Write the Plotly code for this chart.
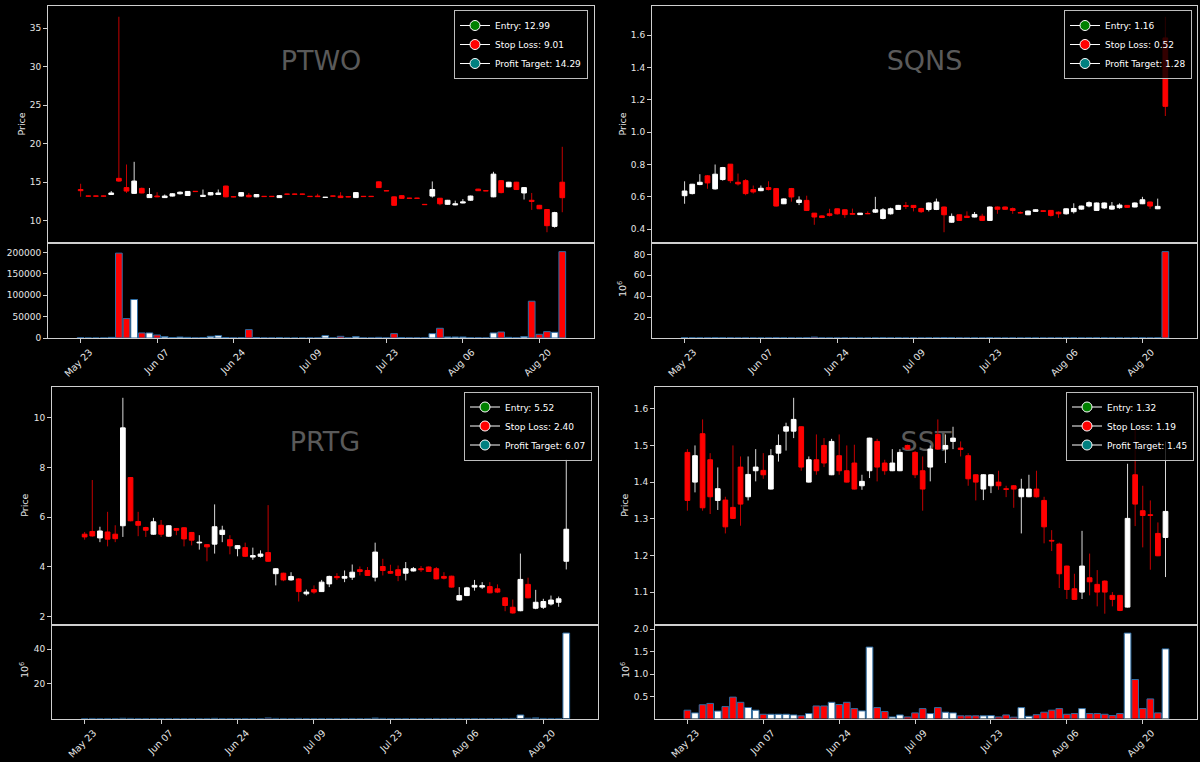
import plotly.graph_objects as go
import pandas as pd

# ---------------- data ----------------
TRADING_DAYS = pd.bdate_range("2024-05-23", "2024-08-23", freq="C",
                              holidays=["2024-05-27", "2024-06-19", "2024-07-04"])
TICKERS = ["PTWO", "SQNS", "PRTG", "SST"]
ENTRY = [12.99, 1.16, 5.52, 1.32]
STOP = [9.01, 0.52, 2.40, 1.19]
TARGET = [14.29, 1.28, 6.07, 1.45]

PTWO_OPEN = [14.05, 13.22, 13.22, 13.22, 13.4, 15.5, 14.3, 13.55, 14.2, 13.0,
             13.2, 13.0, 13.2, 13.5, 13.27, 13.82, 13.15, 13.35, 13.4, 14.5,
             13.12, 13.2, 13.3, 13.1, 13.17, 13.17, 13.0, 13.47, 13.47, 13.47,
             13.17, 13.2, 13.02, 13.22, 13.2, 13.12, 13.0, 13.17, 13.17, 15.05,
             13.9, 13.1, 13.25, 12.94, 12.94, 12.12, 13.2, 12.92, 12.13, 12.05,
             12.3, 12.66, 14.1, 13.9, 13.1, 15.2, 14.4, 15.0, 13.6, 12.65,
             12.0, 11.45, 9.26, 15.0]
PTWO_HIGH = [14.8, 13.25, 13.25, 13.25, 13.85, 36.5, 17.3, 17.65, 14.3, 14.25,
             13.7, 13.4, 13.55, 13.8, 13.85, 13.85, 14.05, 13.7, 14.05, 14.55,
             13.15, 13.7, 13.6, 13.45, 13.2, 13.2, 13.3, 13.5, 13.5, 13.5,
             13.2, 13.5, 13.08, 13.25, 13.7, 13.15, 13.7, 13.2, 13.2, 15.1,
             13.92, 13.15, 13.3, 12.97, 12.97, 12.15, 15.1, 12.95, 12.7, 12.6,
             12.8, 13.25, 14.15, 13.92, 16.35, 15.25, 15.05, 15.05, 14.35, 13.6,
             12.05, 11.5, 11.15, 19.6]
PTWO_LOW = [13.1, 13.15, 13.15, 13.15, 13.4, 15.05, 13.6, 13.5, 13.55, 13.0,
            13.05, 12.95, 13.15, 13.4, 13.25, 13.75, 13.1, 13.3, 13.35, 13.05,
            13.05, 13.15, 13.05, 13.05, 13.1, 13.1, 12.98, 13.4, 13.4, 13.4,
            13.1, 13.1, 13.0, 13.15, 12.95, 13.05, 12.95, 13.1, 13.1, 14.25,
            13.85, 11.95, 12.85, 12.88, 12.88, 12.05, 13.0, 12.0, 12.1, 12.0,
            12.25, 12.6, 13.85, 13.85, 13.05, 13.55, 14.35, 14.0, 12.75, 11.4,
            11.5, 8.5, 9.1, 11.1]
PTWO_CLOSE = [13.9, 13.18, 13.18, 13.18, 13.6, 15.15, 13.85, 15.15, 13.6, 13.4,
              13.1, 13.2, 13.5, 13.7, 13.8, 13.78, 13.3, 13.65, 13.6, 13.1,
              13.08, 13.65, 13.1, 13.4, 13.13, 13.13, 13.25, 13.43, 13.43, 13.43,
              13.13, 13.12, 13.06, 13.18, 13.0, 13.08, 13.65, 13.13, 13.13, 14.3,
              13.86, 12.0, 12.9, 12.9, 12.9, 12.08, 14.05, 12.2, 12.65, 12.2,
              12.45, 13.2, 13.9, 13.86, 16.05, 13.65, 15.0, 14.05, 14.3, 12.5,
              11.55, 9.35, 11.05, 12.99]
PTWO_VOLUME = [800, 0, 0, 0, 1500, 198500, 45500, 90000, 11800, 11800,
               7000, 3100, 1000, 2300, 1500, 500, 1000, 3900, 5500, 1200,
               300, 500, 19600, 1000, 300, 300, 600, 0, 0, 0,
               300, 300, 5500, 300, 3900, 300, 3100, 300, 300, 1500,
               400, 10200, 1200, 500, 500, 400, 10200, 22700, 2400, 2400,
               2400, 400, 600, 300, 11800, 14000, 1500, 600, 3100, 86000,
               8600, 14900, 13300, 202000]

SQNS_OPEN = [0.607, 0.62, 0.676, 0.73, 0.649, 0.707, 0.802, 0.69, 0.70, 0.645,
             0.638, 0.657, 0.651, 0.557, 0.651, 0.565, 0.578, 0.499, 0.482, 0.495,
             0.526, 0.52, 0.497, 0.49, 0.497, 0.505, 0.466, 0.495, 0.522, 0.546,
             0.547, 0.528, 0.522, 0.522, 0.537, 0.443, 0.489, 0.48, 0.475, 0.48,
             0.454, 0.537, 0.537, 0.527, 0.502, 0.489, 0.51, 0.514, 0.516, 0.505,
             0.495, 0.508, 0.524, 0.543, 0.516, 0.531, 0.524, 0.533, 0.547, 0.537,
             0.557, 0.568, 0.526, 1.583]
SQNS_HIGH = [0.696, 0.68, 0.74, 0.735, 0.80, 0.785, 0.802, 0.744, 0.71, 0.67,
             0.67, 0.696, 0.655, 0.59, 0.655, 0.603, 0.607, 0.50, 0.485, 0.526,
             0.528, 0.522, 0.527, 0.50, 0.51, 0.60, 0.53, 0.533, 0.55, 0.568,
             0.549, 0.532, 0.565, 0.589, 0.54, 0.497, 0.49, 0.51, 0.506, 0.495,
             0.54, 0.54, 0.54, 0.534, 0.51, 0.515, 0.522, 0.515, 0.518, 0.51,
             0.528, 0.56, 0.545, 0.572, 0.565, 0.565, 0.568, 0.56, 0.549, 0.565,
             0.60, 0.57, 0.589, 1.714]
SQNS_LOW = [0.557, 0.615, 0.672, 0.65, 0.645, 0.70, 0.685, 0.67, 0.61, 0.62,
            0.635, 0.64, 0.54, 0.555, 0.57, 0.549, 0.512, 0.427, 0.47, 0.478,
            0.49, 0.47, 0.49, 0.488, 0.493, 0.50, 0.46, 0.49, 0.52, 0.525,
            0.51, 0.50, 0.51, 0.518, 0.381, 0.44, 0.452, 0.47, 0.473, 0.452,
            0.452, 0.495, 0.52, 0.495, 0.496, 0.487, 0.508, 0.507, 0.478, 0.47,
            0.49, 0.497, 0.52, 0.535, 0.514, 0.525, 0.52, 0.526, 0.533, 0.535,
            0.555, 0.526, 0.524, 1.10]
SQNS_CLOSE = [0.636, 0.678, 0.69, 0.686, 0.74, 0.781, 0.70, 0.68, 0.62, 0.63,
              0.653, 0.645, 0.543, 0.587, 0.599, 0.58, 0.516, 0.475, 0.472, 0.485,
              0.495, 0.49, 0.492, 0.499, 0.495, 0.52, 0.52, 0.526, 0.547, 0.54,
              0.534, 0.508, 0.562, 0.568, 0.489, 0.479, 0.454, 0.472, 0.491, 0.454,
              0.537, 0.523, 0.523, 0.516, 0.50, 0.512, 0.52, 0.51, 0.485, 0.495,
              0.526, 0.528, 0.543, 0.564, 0.562, 0.562, 0.543, 0.549, 0.535, 0.562,
              0.582, 0.543, 0.541, 1.16]
SQNS_VOLUME = [210000, 150000, 120000, 180000, 260000, 190000, 240000, 130000, 220000, 110000,
               90000, 140000, 310000, 120000, 170000, 100000, 280000, 900000, 160000, 120000,
               140000, 180000, 90000, 70000, 80000, 150000, 210000, 110000, 130000, 90000,
               100000, 120000, 140000, 160000, 420000, 230000, 170000, 110000, 90000, 120000,
               250000, 110000, 80000, 90000, 60000, 100000, 70000, 60000, 140000, 110000,
               120000, 150000, 100000, 130000, 160000, 120000, 110000, 90000, 80000, 100000,
               140000, 120000, 150000, 82600000]

PRTG_OPEN = [5.32, 5.43, 5.17, 5.41, 5.32, 5.66, 7.6, 5.83, 5.59, 5.32,
             5.68, 5.24, 5.55, 5.58, 5.39, 4.97, 4.9, 4.92, 5.31, 5.1,
             4.74, 4.78, 4.4, 4.43, 4.58, 3.73, 3.75, 3.48, 3.52, 2.92,
             3.09, 3.01, 3.32, 3.62, 3.55, 3.59, 3.89, 3.86, 3.59, 4.02,
             3.82, 3.89, 3.75, 3.84, 3.93, 4.0, 3.93, 3.62, 3.63, 2.67,
             2.85, 3.19, 3.19, 3.21, 3.12, 2.76, 2.38, 2.24, 3.3, 2.34,
             2.38, 2.51, 2.58, 4.23]
PRTG_HIGH = [5.41, 7.5, 5.62, 6.22, 5.68, 10.81, 7.62, 6.22, 5.62, 5.98,
             5.89, 5.68, 5.57, 5.6, 5.41, 5.28, 4.92, 6.52, 5.66, 5.28,
             4.88, 4.98, 4.78, 4.67, 6.49, 3.95, 3.77, 3.79, 3.55, 3.09,
             3.26, 3.48, 3.65, 3.75, 3.86, 4.1, 4.02, 4.0, 4.98, 4.33,
             4.09, 4.06, 4.2, 4.0, 4.04, 4.02, 4.0, 3.79, 3.65, 3.19,
             3.2, 3.48, 3.39, 3.39, 3.3, 2.78, 2.69, 4.54, 3.57, 3.08,
             2.72, 2.85, 2.81, 8.32]
PRTG_LOW = [5.1, 5.22, 5.0, 4.83, 5.0, 5.21, 5.84, 5.24, 5.21, 5.3,
            5.21, 5.22, 5.28, 4.83, 4.87, 4.7, 4.23, 4.54, 5.0, 4.51,
            4.43, 4.4, 4.29, 4.38, 4.21, 3.26, 3.43, 3.45, 2.61, 2.85,
            2.92, 3.0, 3.19, 3.48, 3.39, 3.48, 3.66, 3.64, 3.42, 3.66,
            3.73, 3.43, 3.46, 3.82, 3.8, 3.8, 3.5, 3.5, 3.17, 2.65,
            2.83, 3.05, 3.12, 2.94, 2.95, 2.22, 2.12, 2.22, 2.74, 2.3,
            2.31, 2.45, 2.4, 3.9]
PRTG_CLOSE = [5.21, 5.25, 5.45, 5.12, 5.14, 9.6, 5.86, 5.68, 5.48, 5.82,
              5.32, 5.66, 5.48, 5.13, 5.08, 5.0, 4.81, 5.62, 5.48, 4.85,
              4.86, 4.43, 4.46, 4.52, 4.23, 3.93, 3.48, 3.62, 3.01, 2.99,
              2.99, 3.39, 3.62, 3.57, 3.62, 3.79, 3.82, 3.66, 4.6, 3.86,
              3.75, 3.66, 3.93, 3.93, 3.89, 3.82, 3.52, 3.55, 3.19, 2.85,
              3.16, 3.26, 3.25, 2.96, 2.99, 2.45, 2.15, 3.5, 2.76, 2.58,
              2.61, 2.67, 2.72, 5.52]
PRTG_VOLUME = [40000, 90000, 60000, 70000, 50000, 180000, 120000, 60000, 40000, 50000,
               60000, 40000, 30000, 50000, 60000, 40000, 70000, 150000, 60000, 50000,
               40000, 60000, 50000, 30000, 350000, 120000, 80000, 50000, 110000, 60000,
               50000, 70000, 60000, 40000, 50000, 80000, 60000, 50000, 300000, 120000,
               60000, 70000, 60000, 40000, 30000, 50000, 80000, 60000, 90000, 70000,
               60000, 50000, 40000, 60000, 50000, 90000, 120000, 2100000, 200000, 400000,
               100000, 80000, 70000, 49300000]

SST_OPEN = [1.481, 1.4, 1.532, 1.461, 1.35, 1.351, 1.331, 1.441, 1.36, 1.431,
            1.432, 1.381, 1.479, 1.539, 1.539, 1.551, 1.4, 1.461, 1.5, 1.42,
            1.472, 1.431, 1.452, 1.39, 1.431, 1.511, 1.452, 1.431, 1.431, 1.5,
            1.481, 1.431, 1.441, 1.53, 1.49, 1.511, 1.493, 1.472, 1.42, 1.381,
            1.39, 1.4, 1.382, 1.39, 1.36, 1.36, 1.381, 1.35, 1.241, 1.231,
            1.171, 1.109, 1.1, 1.139, 1.121, 1.13, 1.091, 1.091, 1.059, 1.42,
            1.322, 1.311, 1.26, 1.249]
SST_HIGH = [1.49, 1.5, 1.571, 1.479, 1.44, 1.36, 1.5, 1.47, 1.47, 1.49,
            1.479, 1.49, 1.53, 1.562, 1.63, 1.552, 1.47, 1.53, 1.52, 1.518,
            1.53, 1.5, 1.502, 1.42, 1.521, 1.518, 1.461, 1.49, 1.49, 1.502,
            1.485, 1.47, 1.5, 1.571, 1.53, 1.551, 1.511, 1.479, 1.421, 1.421,
            1.421, 1.431, 1.39, 1.392, 1.409, 1.42, 1.431, 1.36, 1.269, 1.235,
            1.172, 1.15, 1.267, 1.205, 1.16, 1.132, 1.1, 1.092, 1.45, 1.55,
            1.39, 1.35, 1.29, 1.511]
SST_LOW = [1.322, 1.372, 1.322, 1.313, 1.324, 1.26, 1.3, 1.281, 1.35, 1.402,
           1.409, 1.38, 1.456, 1.486, 1.52, 1.431, 1.399, 1.42, 1.441, 1.419,
           1.42, 1.399, 1.38, 1.379, 1.411, 1.402, 1.42, 1.43, 1.43, 1.488,
           1.411, 1.322, 1.402, 1.488, 1.452, 1.49, 1.47, 1.39, 1.35, 1.351,
           1.37, 1.379, 1.359, 1.33, 1.26, 1.359, 1.358, 1.233, 1.212, 1.111,
           1.081, 1.079, 1.081, 1.091, 1.061, 1.041, 1.061, 1.048, 1.058, 1.28,
           1.222, 1.161, 1.198, 1.141]
SST_CLOSE = [1.35, 1.472, 1.33, 1.36, 1.382, 1.278, 1.301, 1.34, 1.421, 1.441,
             1.42, 1.472, 1.5, 1.551, 1.571, 1.441, 1.461, 1.431, 1.452, 1.511,
             1.431, 1.4, 1.381, 1.402, 1.52, 1.441, 1.431, 1.452, 1.481, 1.49,
             1.42, 1.381, 1.49, 1.49, 1.5, 1.52, 1.489, 1.409, 1.4, 1.42,
             1.42, 1.39, 1.38, 1.381, 1.381, 1.381, 1.36, 1.278, 1.239, 1.15,
             1.107, 1.08, 1.171, 1.128, 1.1, 1.1, 1.08, 1.05, 1.301, 1.34,
             1.309, 1.309, 1.199, 1.32]
SST_VOLUME = [200000, 140000, 320000, 350000, 180000, 280000, 490000, 375000, 260000, 200000,
              110000, 110000, 110000, 110000, 95000, 75000, 125000, 294000, 294000, 375000,
              325000, 375000, 235000, 184000, 1600000, 257000, 170000, 50000, 95000, 50000,
              140000, 235000, 125000, 257000, 155000, 140000, 75000, 75000, 75000, 75000,
              80000, 50000, 95000, 45000, 257000, 65000, 100000, 155000, 200000, 235000,
              110000, 125000, 235000, 125000, 125000, 110000, 80000, 125000, 1910000, 880000,
              235000, 450000, 140000, 1560000]

SERIES = {
    "PTWO": (PTWO_OPEN, PTWO_HIGH, PTWO_LOW, PTWO_CLOSE, PTWO_VOLUME),
    "SQNS": (SQNS_OPEN, SQNS_HIGH, SQNS_LOW, SQNS_CLOSE, SQNS_VOLUME),
    "PRTG": (PRTG_OPEN, PRTG_HIGH, PRTG_LOW, PRTG_CLOSE, PRTG_VOLUME),
    "SST": (SST_OPEN, SST_HIGH, SST_LOW, SST_CLOSE, SST_VOLUME),
}

# ---------------- layout / styles ----------------
W, H = 1200, 762
FONT = "DejaVu Sans"
LINE = "#cfcfcf"
TXT = "#e6e6e6"
UP, DOWN = "#ffffff", "#ff0000"
WICK_UP, WICK_DOWN = "#d9d9d9", "#c40000"
VOL_EDGE = "#2e6da4"
XR = [-4.27, 67.15]

# panel geometry in pixels: (left, right, top, separator, bottom)
GEOM = [(48, 594, 6, 243, 338), (652, 1197, 6, 243, 338),
        (52, 598, 387, 624.5, 718.6), (655, 1197, 387, 624.5, 718.6)]
LEGEND_POS = [(588, 10), (1192, 10), (592, 391.5), (1194, 391.5)]
VOL_SCALE = [1, 1e6, 1e6, 1e6]
PRICE_DTICK = [5, 0.2, 2, 0.1]
PRICE_FMT = ["d", ".1f", "d", ".1f"]
VOL_DTICK = [50000, 20, 20, 0.5]
VOL_FMT = ["d", "d", "d", ".1f"]
PRICE_LABEL_X = [21, 622, 25, 625]
VOL_LABEL_X = [None, 621.5, 23.5, 624.5]


def px(x):
    return x / W


def py(y):
    return 1 - y / H


def aid(n):
    return "" if n == 1 else str(n)


idx = list(range(len(TRADING_DAYS)))
tickvals = idx[::10]
ticktext = [d.strftime("%b %d") for d in TRADING_DAYS[::10]]

fig = go.Figure()
layout = dict(
    width=W, height=H, margin=dict(l=0, r=0, t=0, b=0, autoexpand=False),
    paper_bgcolor="black", plot_bgcolor="black",
    barmode="overlay", showlegend=True,
    font=dict(family=FONT, color=TXT, size=9),
    annotations=[],
)

axis_common = dict(showline=True, linecolor=LINE, linewidth=1, mirror=True,
                   showgrid=False, zeroline=False, ticks="outside", ticklen=4,
                   tickwidth=1, tickcolor=LINE, automargin=False,
                   tickfont=dict(family=FONT, size=9, color=TXT))

for p, tk in enumerate(TICKERS):
    O, Hh, L, C, V = SERIES[tk]
    a, b, c = 3 * p + 1, 3 * p + 2, 3 * p + 3
    left, right, top, sep, bot = GEOM[p]
    lo_d, hi_d = min(L), max(Hh)
    pad = 0.05 * (hi_d - lo_d)
    yr = [lo_d - pad, hi_d + pad]
    vs = VOL_SCALE[p]
    vol = [v / vs for v in V]
    vr = [0.3 * min(vol), 1.1 * max(vol)]
    xd = [px(left), px(right)]

    layout["xaxis" + aid(a)] = dict(axis_common, domain=xd, range=XR, anchor="y" + aid(a),
                                    showticklabels=False, ticks="")
    layout["yaxis" + aid(a)] = dict(axis_common, domain=[py(sep), py(top)], range=yr,
                                    anchor="x" + aid(a), dtick=PRICE_DTICK[p], tick0=0,
                                    tickformat=PRICE_FMT[p])
    layout["yaxis" + aid(c)] = dict(range=yr, overlaying="y" + aid(a), anchor="x" + aid(a),
                                    visible=False, showgrid=False, zeroline=False,
                                    automargin=False)
    layout["xaxis" + aid(b)] = dict(axis_common, domain=xd, range=XR, anchor="y" + aid(b),
                                    tickmode="array", tickvals=tickvals, ticktext=ticktext,
                                    tickangle=-45, ticklabelshift=9,
                                    tickfont=dict(family=FONT, size=9.5, color=TXT))
    layout["yaxis" + aid(b)] = dict(axis_common, domain=[py(bot), py(sep)], range=vr,
                                    anchor="x" + aid(b), dtick=VOL_DTICK[p], tick0=0,
                                    tickformat=VOL_FMT[p])

    xa, ya, yc = "x" + aid(a), "y" + aid(a), "y" + aid(c)
    xb, yb = "x" + aid(b), "y" + aid(b)

    # ticker watermark (drawn first: sits behind candles)
    fig.add_trace(go.Scatter(x=[(XR[0] + XR[1]) / 2], y=[yr[0] + 0.76 * (yr[1] - yr[0])],
                             mode="text", text=[tk],
                             textfont=dict(family=FONT, size=27, color="#5a5a5a"),
                             xaxis=xa, yaxis=ya, showlegend=False, hoverinfo="skip"))

    up = [i for i in idx if C[i] >= O[i]]
    dn = [i for i in idx if C[i] < O[i]]

    # wicks
    for sel, col in ((up, WICK_UP), (dn, WICK_DOWN)):
        wx, wy = [], []
        for i in sel:
            wx += [i, i, None]
            wy += [L[i], Hh[i], None]
        fig.add_trace(go.Scatter(x=wx, y=wy, mode="lines", line=dict(color=col, width=1),
                                 xaxis=xa, yaxis=ya, showlegend=False, hoverinfo="skip"))

    # bodies (on overlay axis, drawn above wicks)
    for sel, col in ((up, UP), (dn, DOWN)):
        fig.add_trace(go.Bar(x=sel, y=[abs(C[i] - O[i]) for i in sel],
                             base=[min(C[i], O[i]) for i in sel], width=0.62,
                             marker=dict(color=col, line=dict(color=col, width=1)),
                             xaxis=xa, yaxis=yc, showlegend=False, hoverinfo="skip"))

    # volume
    for sel, col in ((up, UP), (dn, DOWN)):
        fig.add_trace(go.Bar(x=sel, y=[vol[i] for i in sel], width=0.88,
                             marker=dict(color=col, line=dict(color=VOL_EDGE, width=1)),
                             xaxis=xb, yaxis=yb, showlegend=False, hoverinfo="skip"))

    # legend proxies
    lg = "legend" + aid(p + 1)
    for name, val, col in (("Entry", ENTRY[p], "#008000"),
                           ("Stop Loss", STOP[p], "#ff0000"),
                           ("Profit Target", TARGET[p], "#008080")):
        fig.add_trace(go.Scatter(x=[None], y=[None], mode="lines+markers",
                                 name=f"{name}: {val:.2f}",
                                 line=dict(color="white", width=1),
                                 marker=dict(size=10, color=col, line=dict(color="white", width=1)),
                                 xaxis=xa, yaxis=ya, legend=lg, showlegend=True))
    lx, ly = LEGEND_POS[p]
    layout[lg] = dict(x=px(lx), y=py(ly), xanchor="right", yanchor="top",
                      bgcolor="rgba(0,0,0,0.8)", bordercolor="#bdbdbd", borderwidth=1,
                      font=dict(family=FONT, size=9, color="white"),
                      tracegroupgap=0, itemclick=False, itemwidth=30)

    # axis labels
    layout["annotations"].append(dict(
        text="Price", x=px(PRICE_LABEL_X[p]), y=py((top + sep) / 2), xref="paper", yref="paper",
        textangle=-90, showarrow=False, font=dict(family=FONT, size=9.5, color=TXT),
        xanchor="center", yanchor="middle"))
    if VOL_LABEL_X[p] is not None:
        layout["annotations"].append(dict(
            text="10<sup>6</sup>", x=px(VOL_LABEL_X[p]), y=py((sep + bot) / 2 - 1),
            xref="paper", yref="paper", textangle=-90, showarrow=False,
            font=dict(family=FONT, size=9.5, color=TXT), xanchor="center", yanchor="middle"))

fig.update_layout(**layout)
fig.write_html("out.html")
